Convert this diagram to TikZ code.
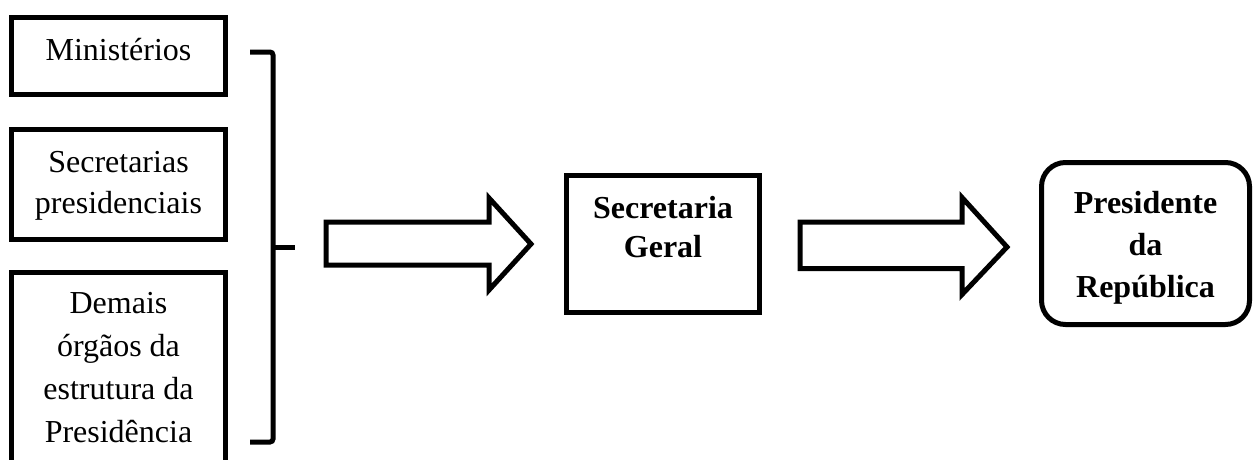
\documentclass[tikz,border=0pt]{standalone}
\usepackage{fontspec}
\setmainfont{Liberation Serif}
\begin{document}
\begin{tikzpicture}[x=1pt,y=-1pt,
  frame/.style={draw=black,line width=5pt,line join=miter},
  txt/.style={inner sep=0pt,align=center,anchor=base,font=\fontsize{32}{42}\selectfont},
  btxt/.style={inner sep=0pt,align=center,anchor=base,font=\fontsize{32}{42}\selectfont\bfseries},
  blockarrow/.style={draw=black,line width=5pt,line join=miter,fill=white}]
\useasboundingbox (0,0) rectangle (1256,459);
\clip (0,0) rectangle (1256,459);
% left boxes
\draw[frame] (11.5,17.5) rectangle (225.5,94.5);
\node[txt] (min) at (118.5,60) {Ministérios};
\draw[frame] (11.5,129.5) rectangle (225.5,239.5);
\node[txt,font=\fontsize{32}{41}\selectfont] (sec) at (118.5,213) {Secretarias\\presidenciais};
\draw[frame] (11.5,272.5) rectangle (225.5,480);
\node[txt,font=\fontsize{32}{43}\selectfont] (dem) at (118.5,442) {Demais\\órgãos da\\estrutura da\\Presidência};
% bracket
\coordinate (bt) at (250,52);
\coordinate (bb) at (250,442);
\coordinate (bm) at (295,247);
\draw[line width=5pt,rounded corners=3pt] (bt) -- (273,52) -- (273,442) -- (bb);
\draw[line width=5pt] (273,247) -- (bm);
% arrow 1
\draw[blockarrow] (326,222) -- (489,222) -- (489,198) -- (531,244) -- (489,290) -- (489,265) -- (326,265) -- cycle;
% secretaria geral
\draw[frame] (566.5,175.5) rectangle (759.5,312.5);
\node[btxt,font=\fontsize{32}{39}\selectfont\bfseries] (sg) at (663,257) {Secretaria\\Geral};
% arrow 2
\draw[blockarrow] (800,222) -- (962,222) -- (962,197.5) -- (1007,247) -- (962,294.5) -- (962,268.5) -- (800,268.5) -- cycle;
% presidente
\draw[frame,rounded corners=24pt] (1041.5,162.5) rectangle (1249.5,324.5);
\node[btxt] (pr) at (1145.5,297) {Presidente\\da\\República};
\end{tikzpicture}
\end{document}
